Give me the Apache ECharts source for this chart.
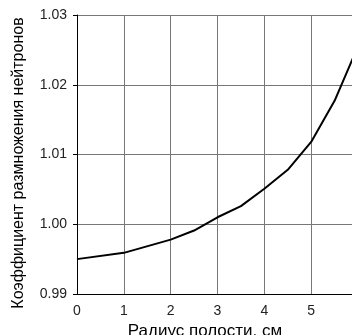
<!DOCTYPE html>
<html>
<head>
<meta charset="utf-8">
<script src="https://cdn.jsdelivr.net/npm/echarts@6/dist/echarts.min.js"></script>
<style>
  html, body { margin: 0; padding: 0; background: #fff; overflow: hidden; }
  #chart { width: 352px; height: 335px; }
</style>
</head>
<body>
<div id="chart"></div>
<script>
// радиус полости, см
const radius = [0, 1, 2, 2.5, 3, 3.5, 4, 4.5, 5, 5.5, 6]
// коэффициент размножения
const kValues = [0.9950, 0.9959, 0.9978, 0.9991, 1.0010, 1.0026, 1.0051, 1.0078, 1.0118, 1.0177, 1.0255]

const xName = 'Радиус полости, см'
const yName = 'Коэффициент размножения нейтронов'

const font = 'Liberation Sans, Arial, sans-serif'

const chart = echarts.init(document.getElementById('chart'))

// the original picture is cut off on the right, so the plot runs past the window edge
chart.setOption({
  animation: false,
  grid: { left: 77, top: 15, right: -6, bottom: 41, outerBoundsMode: 'none', containLabel: false },
  xAxis: {
    type: 'value',
    min: 0,
    max: 6,
    interval: 1,
    name: xName,
    nameLocation: 'middle',
    nameGap: 25,
    nameTextStyle: { fontFamily: font, fontSize: 17, color: '#000', padding: [0, 25, 0, 0] },
    axisLine: { show: true, onZero: false, lineStyle: { color: '#000', width: 1 } },
    axisTick: { show: false },
    axisLabel: { fontFamily: font, fontSize: 14, color: '#222', margin: 10 },
    splitLine: { show: true, lineStyle: { color: '#777', width: 1 } }
  },
  yAxis: {
    type: 'value',
    min: 0.99,
    max: 1.03,
    interval: 0.01,
    name: yName,
    nameLocation: 'middle',
    nameRotate: 90,
    nameGap: 50,
    nameTextStyle: { fontFamily: font, fontSize: 16, color: '#000', padding: [0, 17, 0, 0] },
    axisLine: { show: true, lineStyle: { color: '#000', width: 1 } },
    axisTick: { show: true, length: 4, lineStyle: { color: '#000' } },
    axisLabel: {
      fontFamily: font, fontSize: 14, color: '#222', margin: 10,
      formatter: v => v.toFixed(2)
    },
    splitLine: { show: true, lineStyle: { color: '#777', width: 1 } }
  },
  series: [{
    type: 'line',
    data: radius.map((r, i) => [r, kValues[i]]),
    showSymbol: false,
    lineStyle: { color: '#000', width: 2 }
  }]
})
</script>
</body>
</html>
